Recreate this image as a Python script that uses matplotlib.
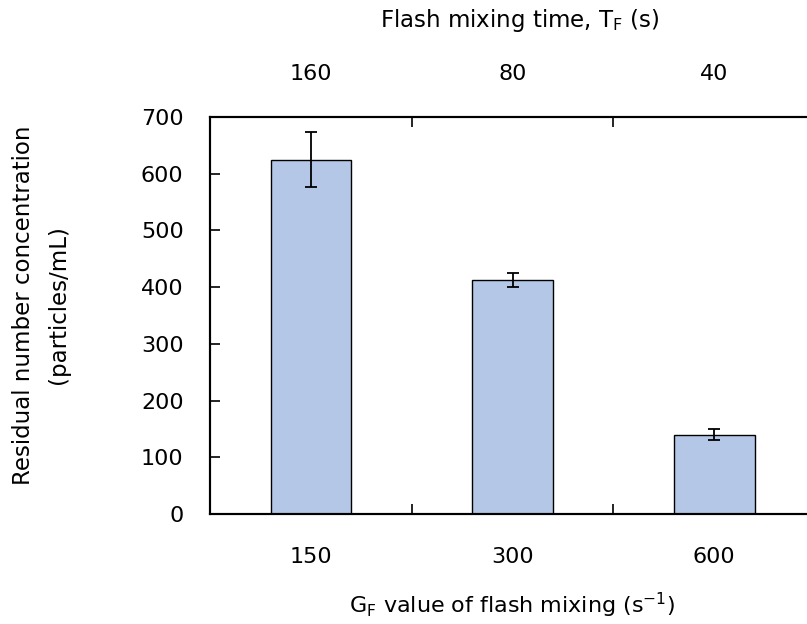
import matplotlib
matplotlib.use("Agg")
import matplotlib.pyplot as plt
import numpy as np

plt.rcParams['font.family'] = ['DejaVu Sans']
plt.rcParams['mathtext.fontset'] = 'dejavusans'
plt.rcParams['mathtext.default'] = 'regular'

# data
g_values = ["150", "300", "600"]
t_values = ["160", "80", "40"]
concentration = [625, 413, 140]
errors = [49, 12, 9]
y_ticks = [0, 100, 200, 300, 400, 500, 600, 700]

fig = plt.figure(figsize=(8.07, 6.24), dpi=100)
ax = fig.add_axes([210/807, 110/624, 605/807, 397/624])

x = np.arange(len(g_values))
ax.bar(x, concentration, width=0.4, color='#B4C7E7', edgecolor='black', linewidth=1.0, zorder=2)
ax.errorbar(x, concentration, yerr=errors, fmt='none', ecolor='black', elinewidth=1.3,
            capsize=4, capthick=1.3, zorder=3)

ax.set_xlim(-0.5, 2.5)
ax.set_ylim(0, 700)
ax.set_yticks(y_ticks)
ax.tick_params(axis='y', direction='in', length=7, width=1.2, labelsize=16, pad=19)
ax.set_xticks(x)
ax.set_xticklabels(g_values)
ax.tick_params(axis='x', which='major', length=0, labelsize=16, pad=24)
ax.set_xticks([0.5, 1.5], minor=True)
ax.tick_params(axis='x', which='minor', direction='in', length=7, width=1.2)
for s in ax.spines.values():
    s.set_linewidth(1.5)

ax2 = ax.twiny()
ax2.set_xlim(ax.get_xlim())
ax2.set_xticks(x)
ax2.set_xticklabels(t_values)
ax2.tick_params(axis='x', which='major', length=0, labelsize=16, pad=24)
ax2.set_xticks([0.5, 1.5], minor=True)
ax2.tick_params(axis='x', which='minor', direction='in', length=7, width=1.2)
for s in ax2.spines.values():
    s.set_linewidth(1.5)

fig.text(512/807, 1 - 605/624, r"G$_\mathrm{F}$ value of flash mixing (s$^{-1}$)",
         fontsize=16, ha='center', va='center')
fig.text(520/807, 1 - 20/624, r"Flash mixing time, T$_\mathrm{F}$ (s)",
         fontsize=16.5, ha='center', va='center')
fig.text(41/807, 1 - 305/624, "Residual number concentration\n(particles/mL)",
         fontsize=16.5, ha='center', va='center', rotation=90, multialignment='center',
         linespacing=1.7)

fig.savefig("out.png", dpi=100)
